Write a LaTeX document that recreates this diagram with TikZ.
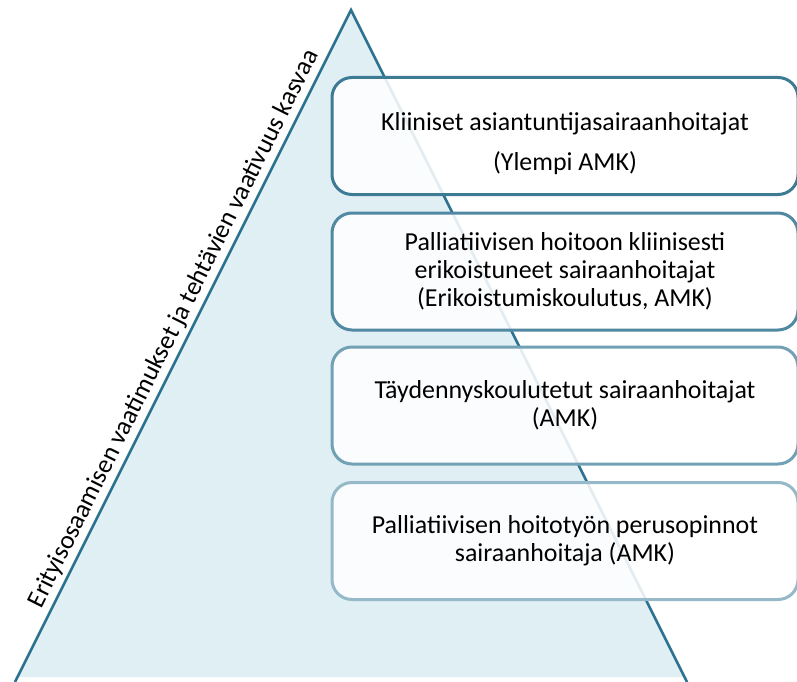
\documentclass[tikz,border=0pt]{standalone}
\usepackage{fontspec}
\setmainfont{Carlito}
\usetikzlibrary{positioning}
\definecolor{kolmioreuna}{HTML}{2C7290}
\definecolor{kolmiopohja}{HTML}{E0EFF3}
\definecolor{reunaA}{HTML}{3D7B95}
\definecolor{reunaB}{HTML}{5089A1}
\definecolor{reunaC}{HTML}{72A0B4}
\definecolor{reunaD}{HTML}{95B9C8}
\tikzset{taso/.style={draw, rounded corners=20bp, line width=3bp, fill=white, fill opacity=0.87, text opacity=1, minimum width=466bp, minimum height=117bp, align=center, font=\fontsize{26}{28}\selectfont}}

\begin{document}
\begin{tikzpicture}[x=1bp, y=-1bp]
	\useasboundingbox (0,0) rectangle (797,682);
	\coordinate (vasen) at (15,682);
	\coordinate (karki) at (351,10);
	\coordinate (oikea) at (687,682);
	\fill[kolmiopohja] (vasen) -- (karki) -- (oikea) -- ([yshift=5bp]oikea) -- ([yshift=5bp]vasen) -- cycle;
	\draw[kolmioreuna, line width=2.5bp] (vasen) -- (karki) -- (oikea);
	
	\node (taso1) [taso, draw=reunaA] at (565,136) {\rule{0pt}{33bp}Kliiniset asiantuntijasairaanhoitajat\\[12bp](Ylempi AMK)};
	\node (taso2) [taso, draw=reunaB] at (565,271.5) {Palliatiivisen hoitoon kliinisesti\\erikoistuneet sairaanhoitajat\\(Erikoistumiskoulutus, AMK)};
	\node (taso3) [taso, draw=reunaC] at (565,405.5) {Täydennyskoulutetut sairaanhoitajat\\(AMK)};
	\node (taso4) [taso, draw=reunaD] at (565,541) {Palliatiivisen hoitotyön perusopinnot\\sairaanhoitaja (AMK)};
	
	\path (vasen) -- (karki) node (otsikko) [pos=0.515, sloped, above=1bp, font=\fontsize{26}{28}\selectfont] {Erityisosaamisen vaatimukset ja tehtävien vaativuus kasvaa};
\end{tikzpicture}
\end{document}
